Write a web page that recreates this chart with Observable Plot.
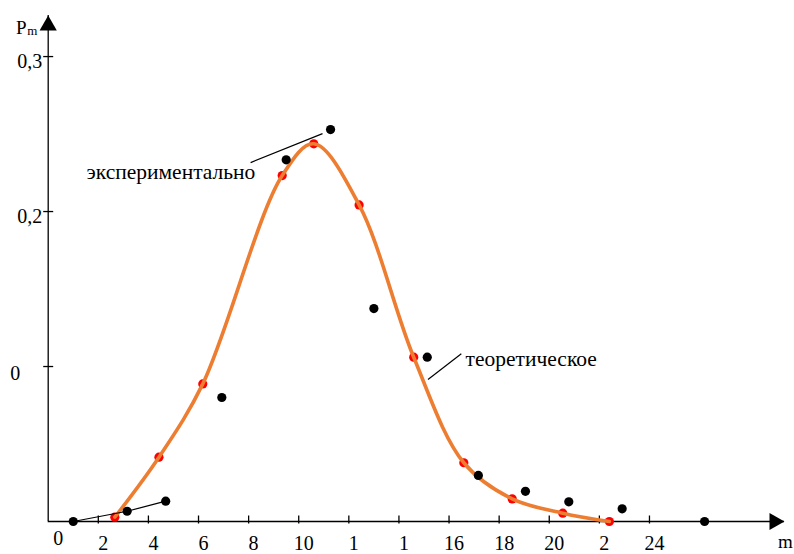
<!DOCTYPE html>
<html>
<head>
<meta charset="utf-8">
<script src="https://cdn.jsdelivr.net/npm/d3@7"></script>
<script src="https://cdn.jsdelivr.net/npm/@observablehq/plot@0.6"></script>
<style>
  html, body { margin: 0; padding: 0; background: #fff; }
  #chart { width: 794px; height: 554px; overflow: hidden; }
  #chart svg, #chart svg text { font-family: "Times New Roman", Times, "Liberation Serif", Tinos, "DejaVu Serif", "Noto Serif", FreeSerif, serif !important; }
</style>
</head>
<body>
<div id="chart"></div>
<script>
// Experimental values (black dots)
const expM = [1.0, 3.15, 4.69, 6.93, 9.5, 11.27, 13.0, 15.13, 17.17, 19.05, 20.78, 22.91, 26.2];
const expP = [0, 0.0066, 0.0131, 0.080, 0.2334, 0.2529, 0.1374, 0.1060, 0.0297, 0.0195, 0.0127, 0.0082, 0];
// Theoretical values (red dots + orange curve)
const theoM = [2.66, 4.42, 6.17, 9.34, 10.60, 12.41, 14.59, 16.59, 18.52, 20.54, 22.4];
const theoP = [0.0028, 0.0415, 0.0888, 0.2232, 0.2437, 0.2043, 0.1060, 0.0379, 0.0146, 0.0054, 0];
// Axis ticks and labels (as shown, truncated in the original)
const xTicks = [2, 4, 6, 8, 10, 12, 14, 16, 18, 20, 22, 24];
const xTickLabels = ["2", "4", "6", "8", "10", "1", "1", "16", "18", "20", "2", "24"];
const yTicks = [0.1, 0.2, 0.3];
const yTickLabels = ["0", "0,2", "0,3"];
// Annotations
const noteText = ["экспериментально", "теоретическое"];
const noteM = [1.53, 16.66];
const noteP = [0.2213, 0.1006];
const leaderM1 = [8.08, 15.16];
const leaderP1 = [0.2316, 0.0916];
const leaderM2 = [10.95, 16.49];
const leaderP2 = [0.2503, 0.1082];

const xMax = 29.39, yMax = 0.3265;

const exp = expM.map((m, i) => ({m, p: expP[i]}));
const theo = theoM.map((m, i) => ({m, p: theoP[i]}));
const notes = noteText.map((t, i) => ({t, m: noteM[i], p: noteP[i], m1: leaderM1[i], p1: leaderP1[i], m2: leaderM2[i], p2: leaderP2[i]}));
const xLab = xTicks.map((v, i) => ({v, t: xTickLabels[i]}));
const yLab = yTicks.map((v, i) => ({v, t: yTickLabels[i]}));

const xTickSym = {draw(ctx) { ctx.moveTo(0, -6); ctx.lineTo(0, 2); }};
const yTickSym = {draw(ctx) { ctx.moveTo(-5, 0); ctx.lineTo(5, 0); }};
const font = "'Times New Roman', Times, 'Liberation Serif', Tinos, 'DejaVu Serif', 'Noto Serif', serif";

const chart = Plot.plot({
  width: 794,
  height: 554,
  marginLeft: 47.7,
  marginRight: 10,
  marginTop: 15,
  marginBottom: 33,
  x: {domain: [0, xMax], axis: null},
  y: {domain: [0, yMax], axis: null},
  style: {fontFamily: font, fontSize: "20px", background: "white", color: "black"},
  marks: [
    // axes
    Plot.ruleY([0], {stroke: "black", strokeWidth: 1.3}),
    Plot.ruleX([0], {stroke: "black", strokeWidth: 1.3}),
    Plot.dot([xMax], {x: d => d, y: 0, symbol: "triangle", rotate: 90, r: 6.4, fill: "black", stroke: "none", dx: -10}),
    Plot.dot([yMax], {x: 0, y: d => d, symbol: "triangle", r: 6.4, fill: "black", stroke: "none", dy: 10}),
    Plot.dot(xTicks, {x: d => d, y: 0, symbol: xTickSym, fill: "none", stroke: "black", strokeWidth: 1.3}),
    Plot.dot(yTicks, {x: 0, y: d => d, symbol: yTickSym, fill: "none", stroke: "black", strokeWidth: 1.3}),
    // tick labels
    Plot.text(xLab, {x: "v", y: 0, text: "t", dx: 5, dy: 28, lineAnchor: "bottom", textAnchor: "middle", fontFamily: font}),
    Plot.text(["0"], {x: 0, y: 0, text: d => d, dx: 10, dy: 23, lineAnchor: "bottom", textAnchor: "middle", fontFamily: font}),
    Plot.text(yLab.filter(d => d.v > 0.15), {x: 0, y: "v", text: "t", dx: -6, dy: 11, lineAnchor: "bottom", textAnchor: "end", fontFamily: font}),
    Plot.text(yLab.filter(d => d.v < 0.15), {x: 0, y: "v", text: "t", dx: -33, dy: 13, lineAnchor: "bottom", textAnchor: "middle", fontFamily: font}),
    // axis titles
    Plot.text(["P"], {frameAnchor: "top-left", text: d => d, dx: -27, dy: 18, lineAnchor: "bottom", textAnchor: "middle", fontSize: 19, fontFamily: font}),
    Plot.text(["m"], {frameAnchor: "top-left", text: d => d, dx: -21, dy: 19, lineAnchor: "bottom", textAnchor: "start", fontSize: 13, fontFamily: font}),
    Plot.text(["m"], {frameAnchor: "bottom-right", text: d => d, dx: 1, dy: 26, lineAnchor: "bottom", textAnchor: "middle", fontSize: 19, fontFamily: font}),
    // theoretical
    Plot.dot(theo, {x: "m", y: "p", r: 4.6, fill: "#ff0000", stroke: "none"}),
    Plot.line(theo, {x: "m", y: "p", curve: "catmull-rom", stroke: "#ED7D31", strokeWidth: 3.6}),
    // experimental
    Plot.line(exp.slice(0, 3), {x: "m", y: "p", stroke: "black", strokeWidth: 1.2}),
    Plot.dot(exp, {x: "m", y: "p", r: 4.6, fill: "black", stroke: "none"}),
    // annotations
    Plot.link(notes, {x1: "m1", y1: "p1", x2: "m2", y2: "p2", stroke: "black", strokeWidth: 1.2}),
    Plot.text(notes, {x: "m", y: "p", text: "t", textAnchor: "start", lineAnchor: "bottom", fontSize: 21.5, fontFamily: font})
  ]
});
document.getElementById("chart").append(chart);
</script>
</body>
</html>
